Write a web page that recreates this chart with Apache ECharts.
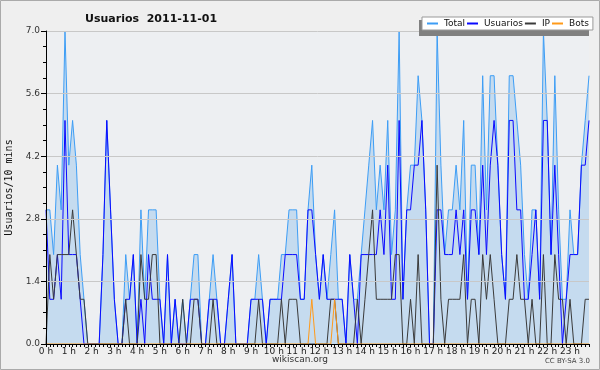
<!DOCTYPE html>
<html><head><meta charset="utf-8">
<script src="https://cdn.jsdelivr.net/npm/echarts@6/dist/echarts.min.js"></script>
<style>html,body{margin:0;padding:0;background:#efefef}#c{width:600px;height:370px}</style>
</head><body><div id="c"></div>
<script>
// tick labels for the hours
const hourLabels = ['0 h','1 h','2 h','3 h','4 h','5 h','6 h','7 h','8 h','9 h','10 h','11 h','12 h','13 h','14 h','15 h','16 h','17 h','18 h','19 h','20 h','21 h','22 h','23 h'];
const yTicks = ['0.0','1.4','2.8','4.2','5.6','7.0'];

// 144 ten-minute slots
const total = [3,3,2,4,3,7,4,5,4,2,1,0, 0,0,0,2,5,3,1,0,0,2,1,2, 0,3,1,3,3,3,1,0,2,0,1,0, 1,0,1,2,2,0,0,1,2,1,0,0,
  1,2,0,0,0,0,1,1,2,1,0,1, 1,1,2,2,3,3,3,1,1,3,4,2, 1,2,1,2,3,1,1,0,2,1,1,2, 3,4,5,3,4,3,5,2,3,7,1,3,
  4,4,6,5,3,0,0,7,4,2,3,3, 4,3,5,1,4,4,2,6,3,6,6,4, 2,1,6,6,5,4,2,1,3,3,1,7, 5,2,6,3,1,1,3,2,2,4,5,6];
const usuarios = [3,1,1,2,1,5,2,2,2,1,0,0, 0,0,0,2,5,3,1,0,0,1,1,2, 0,1,0,2,1,1,1,0,2,0,1,0, 0,0,1,1,1,0,0,1,1,1,0,0,
  1,2,0,0,0,0,1,1,1,1,0,1, 1,1,1,2,2,2,2,1,1,3,3,2, 1,2,1,1,1,1,1,0,2,1,0,2, 2,2,2,2,3,2,4,1,1,5,1,3,
  3,4,4,5,3,0,0,3,3,2,2,2, 3,2,3,1,3,3,2,4,2,4,5,4, 2,1,5,5,3,3,1,1,2,3,1,5, 5,2,4,2,0,1,2,2,2,4,4,5];
const ip = [0,2,1,2,2,2,2,3,2,1,1,0, 0,0,0,0,0,0,0,0,0,1,0,0, 0,2,1,1,2,2,0,0,0,0,0,0, 1,0,0,1,1,0,0,0,1,0,0,0,
  0,0,0,0,0,0,0,0,1,0,0,0, 0,0,1,0,1,1,1,0,0,0,0,0, 0,0,0,1,1,0,0,0,0,0,1,0, 1,2,3,1,1,1,1,1,2,2,0,0,
  1,0,2,0,0,0,0,4,1,0,1,1, 1,1,2,0,1,1,0,2,1,2,1,0, 0,0,1,1,2,1,1,0,1,0,0,2, 0,0,2,1,1,0,1,0,0,0,1,1];
const bots = [0,0,0,0,0,0,0,0,0,0,0,0, 0,0,0,0,0,0,0,0,0,0,0,0, 0,0,0,0,0,0,0,0,0,0,0,0, 0,0,0,0,0,0,0,0,0,0,0,0,
  0,0,0,0,0,0,0,0,0,0,0,0, 0,0,0,0,0,0,0,0,0,0,1,0, 0,0,0,0,1,0,0,0,0,0,0,0, 0,0,0,0,0,0,0,0,0,0,0,0,
  0,0,0,0,0,0,0,0,0,0,0,0, 0,0,0,0,0,0,0,0,0,0,0,0, 0,0,0,0,0,0,0,0,0,0,0,0, 0,0,0,0,0,0,0,0,0,0,0,0];

const slots = total.map((_, i) => String(i));

const chart = echarts.init(document.getElementById('c'), null, {renderer: 'canvas'});
const FONT = 'DejaVu Sans';
chart.setOption({
  backgroundColor: '#efefef',
  animation: false,
  title: {
    text: 'Usuarios  2011-11-01', left: 80, top: 9,
    textStyle: {fontFamily: FONT, fontWeight: 'bold', fontSize: 11, color: '#111'}
  },
  legend: {
    data: ['Total', 'Usuarios', 'IP', 'Bots'],
    left: 422, top: 17, orient: 'horizontal', z: 20,
    padding: [2, 4, 2, 5], itemGap: 2, itemWidth: 11, itemHeight: 2,
    icon: 'rect',
    backgroundColor: '#ffffff', borderColor: '#999', borderWidth: 1,
    textStyle: {fontFamily: FONT, fontSize: 9, color: '#111', padding: [0, 0, 0, 1]}
  },
  grid: {left: 46, right: 11, top: 31, bottom: 26, show: true, backgroundColor: '#edeff2', borderWidth: 0,
    containLabel: false, outerBoundsMode: 'none'},
  xAxis: {
    type: 'category', boundaryGap: false, data: slots, z: 10,
    axisLine: {lineStyle: {color: '#000', width: 1}},
    axisTick: {interval: 0, length: 3, lineStyle: {color: '#000'}},
    axisLabel: {interval: 5, formatter: (v, i) => hourLabels[i / 6], fontFamily: FONT, fontSize: 9, margin: 3, color: '#222'},
    splitLine: {show: false}
  },
  yAxis: {
    type: 'value', min: 0, max: 7, interval: 1.4, z: 10,
    name: 'Usuarios/10 mins', nameLocation: 'middle', nameGap: 32,
    nameTextStyle: {fontFamily: 'DejaVu Sans Mono', fontSize: 10, color: '#111'},
    axisLine: {show: true, lineStyle: {color: '#000'}},
    axisTick: {show: true, length: 5, lineStyle: {color: '#000'}},
    minorTick: {show: true, splitNumber: 4, length: 3, lineStyle: {color: '#000'}},
    axisLabel: {formatter: (v) => yTicks[Math.round(v / 1.4)], fontFamily: FONT, fontSize: 9, margin: 6, color: '#333'},
    splitLine: {lineStyle: {color: '#c8c8c8'}}
  },
  graphic: [
    {type: 'rect', shape: {x: 0.5, y: 0.5, width: 599, height: 369}, style: {fill: 'none', stroke: '#aaaaaa', lineWidth: 1}, z: 100},
    {type: 'rect', shape: {x: 419, y: 20, width: 170, height: 16}, style: {fill: '#808080'}, z: 15},
    {type: 'text', left: 'center', top: 355, style: {text: 'wikiscan.org', font: '9px "DejaVu Sans"', fill: '#333'}},
    {type: 'text', right: 10, top: 358, style: {text: 'CC BY-SA 3.0', font: '7px "DejaVu Sans"', fill: '#444'}}
  ],
  series: [
    {name: 'Total', type: 'line', data: total, symbol: 'none', z: 2,
      lineStyle: {color: '#3d9df5', width: 1}, itemStyle: {color: '#3d9df5'},
      areaStyle: {color: '#c5dbef', opacity: 1}},
    {name: 'Usuarios', type: 'line', data: usuarios, symbol: 'none', z: 3,
      lineStyle: {color: '#0a0aff', width: 1}, itemStyle: {color: '#0a0aff'}},
    {name: 'IP', type: 'line', data: ip, symbol: 'none', z: 4,
      lineStyle: {color: '#3a3a3a', width: 1}, itemStyle: {color: '#3a3a3a'}},
    {name: 'Bots', type: 'line', data: bots, symbol: 'none', z: 5,
      lineStyle: {color: '#ff9a1a', width: 1}, itemStyle: {color: '#ff9a1a'}}
  ]
});
</script></body></html>
